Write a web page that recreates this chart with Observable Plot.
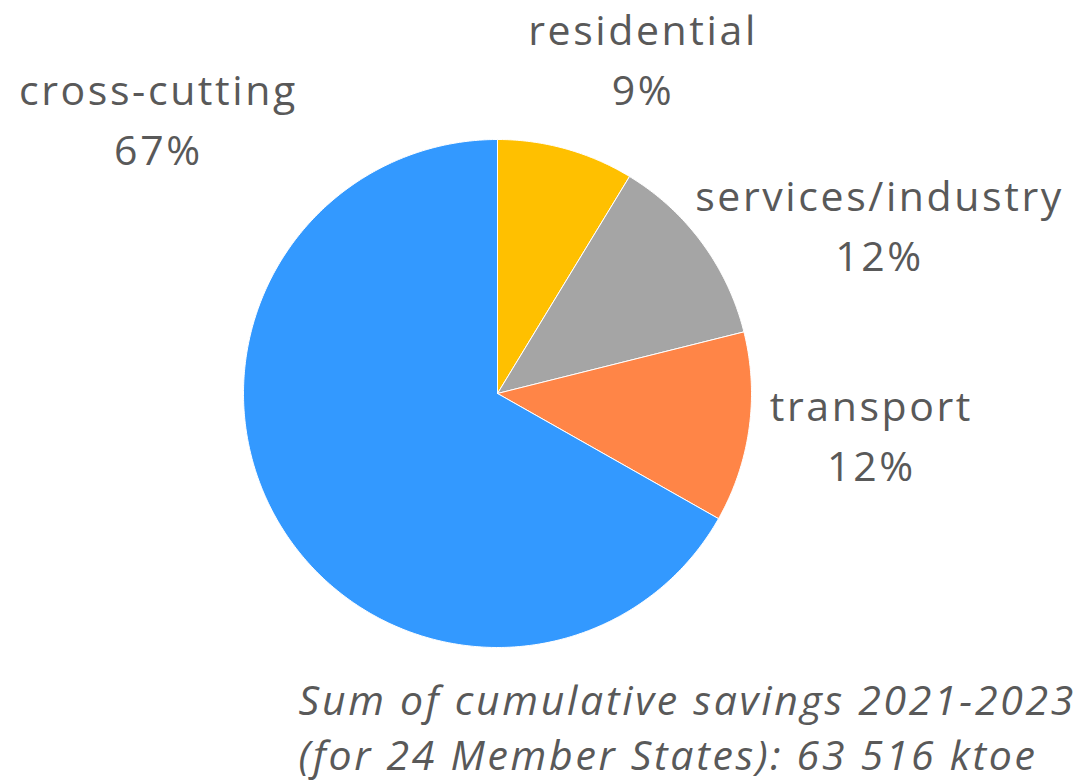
<!DOCTYPE html>
<html>
<head>
<meta charset="utf-8">
<script src="https://cdn.jsdelivr.net/npm/d3@7"></script>
<script src="https://cdn.jsdelivr.net/npm/@observablehq/plot@0.6"></script>
<style>
  html, body { margin: 0; padding: 0; background: #fff; }
  .lbl text { letter-spacing: 2.6px; }
  .cap text { letter-spacing: 2.7px; }
</style>
</head>
<body>
<div id="chart"></div>
<script>
// Data
const categories = ["residential", "services/industry", "transport", "cross-cutting"];
const shares = [8.7, 12.4, 12.1, 66.8];
const colors = ["#FFC000", "#A5A5A5", "#FF8547", "#3399FF"];
const caption = "Sum of cumulative savings 2021-2023\n(for 24 Member States): 63 516 ktoe";

// Label placement (data units, radius = 1; y = baseline of last line)
const labelPos = {
  "residential": [0.573, 1.134],
  "services/industry": [1.504, 0.484],
  "transport": [1.472, -0.343],
  "cross-cutting": [-1.335, 0.898]
};

const table = categories.map((c, i) => ({key: c, value: shares[i]}));
const arcs = d3.pie().sort(null).value(d => d.value)(table);

// Polygon points for each slice (angle clockwise from top)
const pts = [];
for (const a of arcs) {
  const key = a.data.key;
  pts.push({key, x: 0, y: 0});
  const n = Math.max(2, Math.ceil((a.endAngle - a.startAngle) / 0.01));
  for (let k = 0; k <= n; k++) {
    const t = a.startAngle + (a.endAngle - a.startAngle) * k / n;
    pts.push({key, x: Math.sin(t), y: Math.cos(t)});
  }
  pts.push({key, x: 0, y: 0});
}

const labels = table.map(d => ({
  key: d.key,
  x: labelPos[d.key][0],
  y: labelPos[d.key][1],
  text: `${d.key}\n${Math.round(d.value)}%`
}));

const W = 1084, H = 783, cx = 497, cy = 393, R = 254;

const chart = Plot.plot({
  width: W,
  height: H,
  margin: 0,
  x: {domain: [-cx / R, (W - cx) / R], range: [0, W], axis: null},
  y: {domain: [-(H - cy) / R, cy / R], range: [H, 0], axis: null},
  color: {domain: categories, range: colors},
  style: {fontFamily: "'Open Sans', sans-serif", background: "#fff"},
  marks: [
    Plot.line(pts, {x: "x", y: "y", z: "key", fill: "key", stroke: "#fff", strokeWidth: 1, curve: "linear"}),
    Plot.text(labels, {
      x: "x", y: "y", text: "text", className: "lbl",
      fill: "#595959", fontSize: 41, lineHeight: 60 / 41, lineAnchor: "bottom", textAnchor: "middle"
    }),
    Plot.text([caption], {
      x: () => -0.783, y: () => -1.484, text: d => d, className: "cap",
      fill: "#595959", fontSize: 41, fontStyle: "italic", lineHeight: 55 / 41,
      lineAnchor: "bottom", textAnchor: "start"
    })
  ]
});

document.getElementById("chart").appendChild(chart);
</script>
</body>
</html>
